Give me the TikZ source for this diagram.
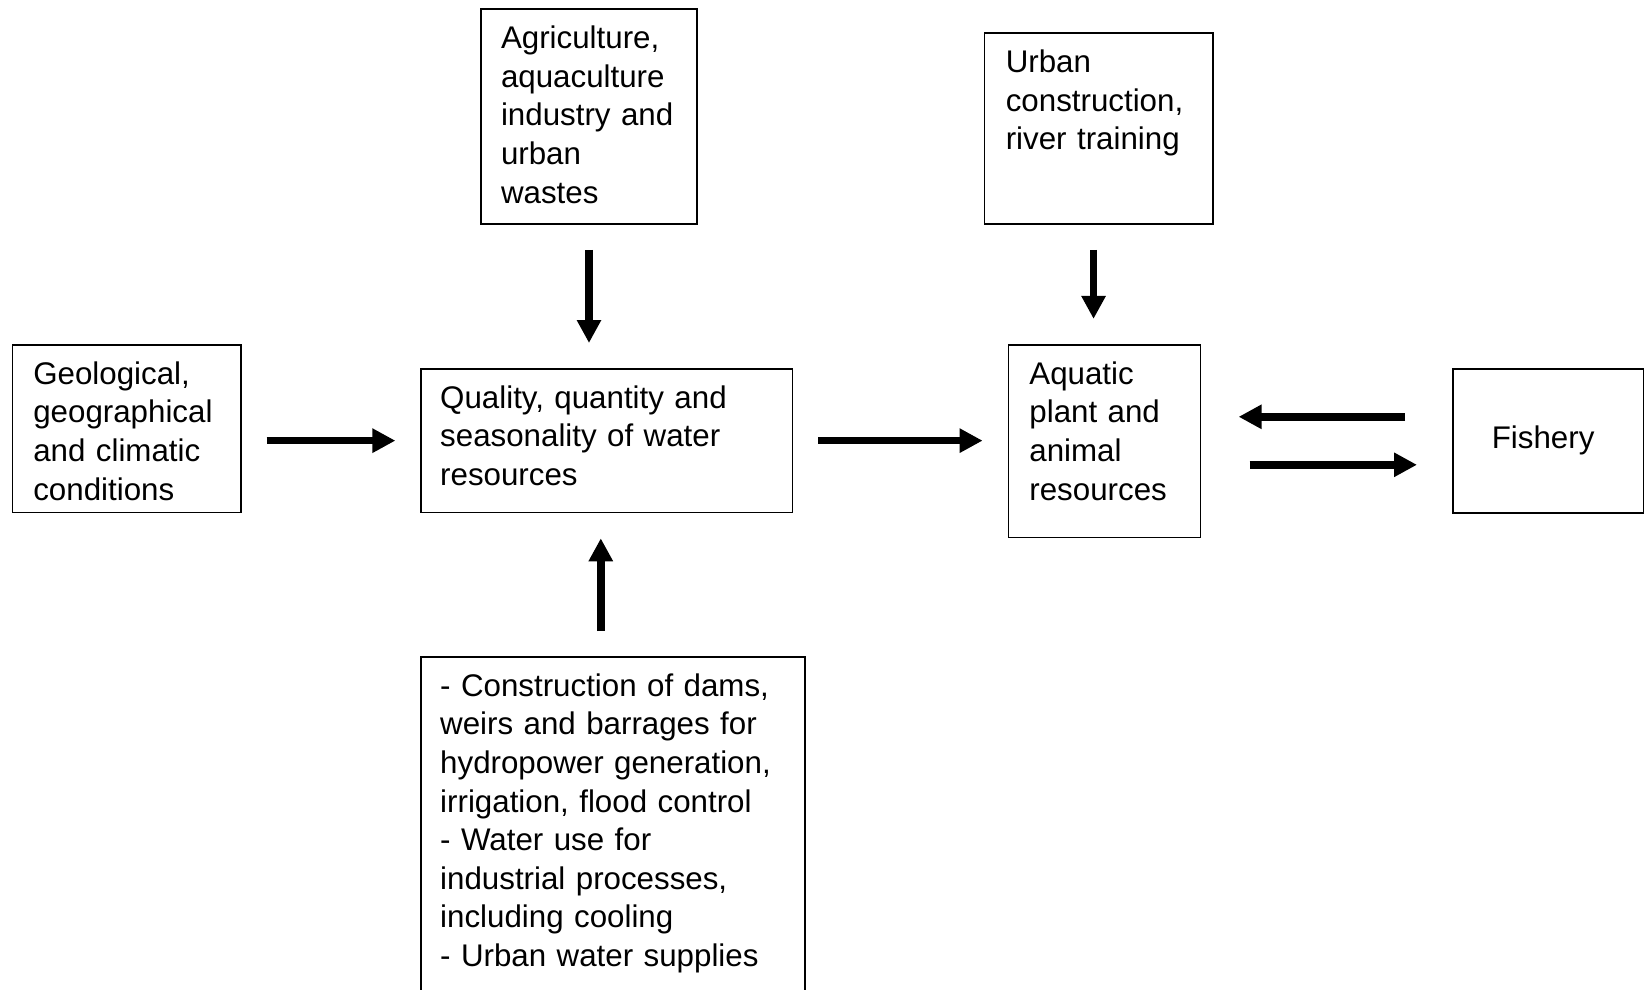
\documentclass[tikz,border=0pt]{standalone}
\usepackage{fontspec}
\setmainfont{Liberation Sans}
\usetikzlibrary{arrows.meta}

\begin{document}
\begin{tikzpicture}[x=0.5pt,y=-0.5pt,
	factor/.style={draw,line width=0.8pt,anchor=north west,inner ysep=0pt,align=left,
		font=\fontsize{15.65pt}{19.3pt}\selectfont,text height=19.75pt},
	flow/.style={line width=3.7pt,-{Triangle[length=11.5pt,width=11.5pt]},
		shorten <=12.5pt,shorten >=12.5pt}]

\useasboundingbox (0,0) rectangle (1644,990);

% CAUSES
\node[factor,inner xsep=10.5pt,text width=93.3pt,text depth=64.15pt] (geo) at (11.5,343.9)
	{Geological,\\geographical\\and climatic\\conditions};
\node[factor,inner xsep=10pt,text width=88pt,text depth=87.7pt] (agri) at (480.2,8.4)
	{Agriculture,\\aquaculture\\industry and\\urban\\wastes};
\node[factor,inner xsep=9.5pt,text width=172.9pt,text depth=152.25pt] (cons) at (420.4,656)
	{- Construction of dams,\\weirs and barrages for\\hydropower generation,\\irrigation, flood control\\- Water use for\\industrial processes,\\including cooling\\- Urban water supplies};
\node[factor,inner xsep=10.75pt,text width=92.75pt,text depth=75.65pt] (urban) at (983.5,32.5)
	{Urban\\construction,\\river training};

% RESOURCES
\node[factor,inner xsep=9.5pt,text width=166.6pt,text depth=52.1pt] (qual) at (420.4,368)
	{Quality, quantity and\\seasonality of water\\resources};
\node[factor,inner xsep=10.5pt,text width=74.95pt,text depth=76.7pt] (aqua) at (1007.6,343.9)
	{Aquatic\\plant and\\animal\\resources};
\node[factor,inner xsep=19.5pt,text width=56.5pt,text height=40pt,text depth=32pt] (fish) at (1452,368)
	{Fishery};

% ARROWS
\draw[flow] (agri.south) -- (agri.south |- qual.north);
\draw[flow] (geo.east |- qual.west) -- (qual.west);
\draw[flow] (qual.east) -- (qual.east -| aqua.west);
\draw[flow] ([xshift=-3pt]qual.south |- cons.north) -- ([xshift=-3pt]qual.south);
\draw[flow] ([xshift=-2.5pt]urban.south) -- ([xshift=-2.5pt]urban.south |- aqua.north);
\draw[flow,shorten <=23.5pt,shorten >=18.75pt] ([yshift=12pt]fish.west) -- ([yshift=12pt]fish.west -| aqua.east);
\draw[flow,shorten <=24.25pt,shorten >=17.5pt] ([yshift=-12pt]aqua.east |- fish.west) -- ([yshift=-12pt]fish.west);
\end{tikzpicture}
\end{document}
